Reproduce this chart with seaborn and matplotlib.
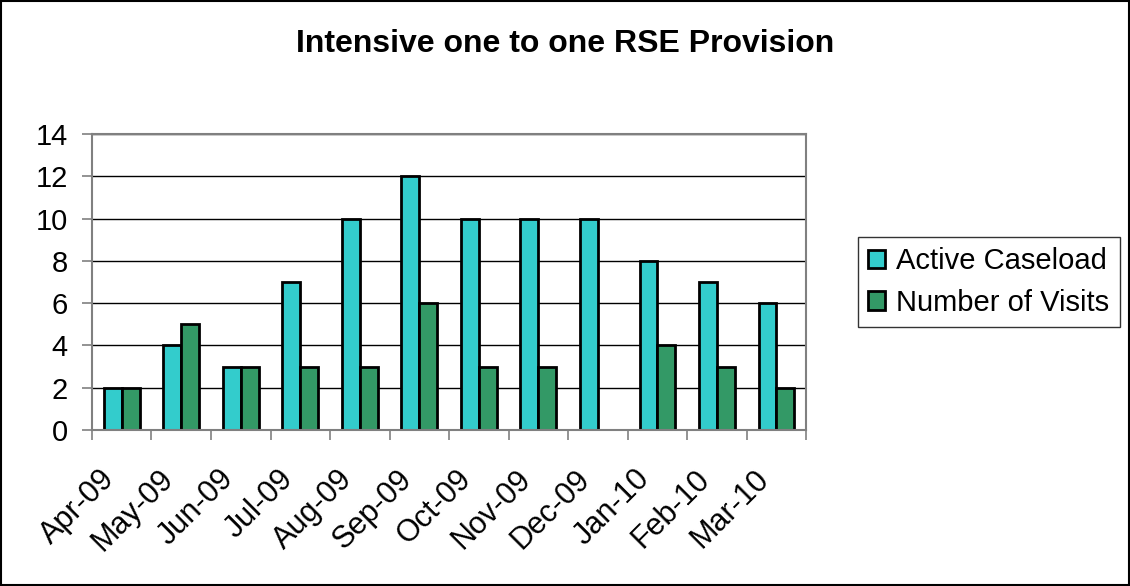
import pandas as pd
import matplotlib.pyplot as plt
import matplotlib.transforms as mtransforms
import seaborn as sns
from matplotlib.patches import Rectangle

months = ["Apr-09", "May-09", "Jun-09", "Jul-09", "Aug-09", "Sep-09",
          "Oct-09", "Nov-09", "Dec-09", "Jan-10", "Feb-10", "Mar-10"]
active_caseload = [2, 4, 3, 7, 10, 12, 10, 10, 10, 8, 7, 6]
number_of_visits = [2, 5, 3, 3, 3, 6, 3, 3, 0, 4, 3, 2]

df = pd.DataFrame({
    "month": months * 2,
    "value": active_caseload + number_of_visits,
    "series": ["Active Caseload"] * len(months) + ["Number of Visits"] * len(months),
})

sns.set_style("white")
plt.rcParams["font.family"] = ["Liberation Sans", "DejaVu Sans"]
plt.rcParams["text.color"] = "black"
plt.rcParams["xtick.color"] = "black"
plt.rcParams["ytick.color"] = "black"

fig = plt.figure(figsize=(11.3, 5.86), dpi=100)
ax = fig.add_axes([0.0814, 0.2662, 0.632, 0.505])

sns.barplot(data=df, x="month", y="value", hue="series", order=months,
            palette=["#33CCCC", "#339966"], saturation=1, width=0.6, gap=0,
            edgecolor="black", linewidth=2, ax=ax, legend=True)

ax.set_ylim(0, 14)
ax.set_yticks(range(0, 15, 2))
ax.set_xlim(-0.5, len(months) - 0.5)
ax.yaxis.grid(True, color="black", linewidth=1)
ax.set_axisbelow(True)
ax.set_xlabel("")
ax.set_ylabel("")
for s in ax.spines.values():
    s.set_color("#808080")
    s.set_linewidth(1.5)

# tick marks between categories, labels at centres
ax.set_xticks([i - 0.5 for i in range(len(months) + 1)], minor=False)
ax.set_xticklabels([])
ax.set_xticks(range(len(months)), minor=True)
ax.set_xticklabels(months, minor=True, rotation=45, ha="right", va="center",
                   rotation_mode="anchor", fontsize=22)
ax.tick_params(axis="x", which="major", length=7.5, width=1.2, color="#808080", direction="out", bottom=True)
ax.tick_params(axis="x", which="minor", length=0, pad=32)
ax.tick_params(axis="y", length=7.5, width=1.2, color="#808080", direction="out", left=True,
               labelsize=21, pad=10)

# nudge rotated labels a little to the left, as in the original
shift = mtransforms.ScaledTranslation(-0.12, 0, fig.dpi_scale_trans)
for lab in ax.get_xticklabels(minor=True):
    lab.set_transform(lab.get_transform() + shift)

leg = ax.legend(loc="center left", bbox_to_anchor=(1.073, 0.5), fontsize=21,
                frameon=True, fancybox=False, handlelength=0.55, handleheight=0.6,
                handletextpad=0.4, borderpad=0.35, labelspacing=0.45, borderaxespad=0)
leg.get_frame().set_edgecolor("black")
leg.get_frame().set_linewidth(1)

fig.suptitle("Intensive one to one RSE Provision", fontsize=23, fontweight="bold", y=0.95)

fig.patches.append(Rectangle((0.001, 0.001), 0.998, 0.997, transform=fig.transFigure,
                             fill=False, edgecolor="black", linewidth=1.5))

fig.savefig("out.png", dpi=100)
